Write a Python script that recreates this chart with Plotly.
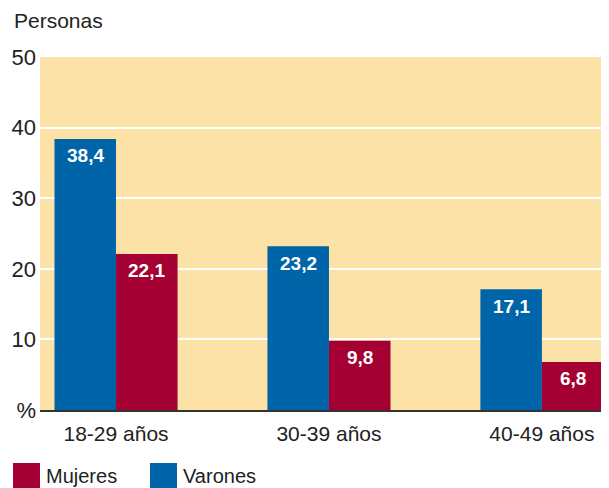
import plotly.graph_objects as go

categorias = ["18-29 años", "30-39 años", "40-49 años"]
varones = [38.4, 23.2, 17.1]
mujeres = [22.1, 9.8, 6.8]
y_ticks = [0, 10, 20, 30, 40, 50]
y_labels = ["%", "10", "20", "30", "40", "50"]

BLUE = "#0064A8"
RED = "#A50034"
BG = "#FDE2A8"
FONT = "Liberation Sans"
TXT = "#222222"

# page body adds an 8px offset; compensate so figure fills the 609x488 window
OFF = 8
W, H = 609 - OFF, 488 - OFF
L, T, R, B = 40 - OFF, 57 - OFF, 0, 488 - 410
PW, PH = W - L - R, H - T - B


def fmt(v):
    return f"{v:.1f}".replace(".", ",")


def px_x(ref_px):
    return (ref_px - 40) / PW


def px_y(ref_py):
    return (410 - ref_py) / PH


xs = list(range(len(categorias)))
w = 0.289

fig = go.Figure()
fig.add_trace(go.Bar(x=xs, y=varones, width=w, offset=-w, marker_color=BLUE,
                     marker_line_width=0, name="Varones", showlegend=False))
fig.add_trace(go.Bar(x=xs, y=mujeres, width=w, offset=0, marker_color=RED,
                     marker_line_width=0, name="Mujeres", showlegend=False))

for vals, shift in ((varones, -w / 2), (mujeres, w / 2)):
    for i, v in zip(xs, vals):
        fig.add_annotation(x=i + shift, y=v, text=fmt(v), showarrow=False,
                           yanchor="middle", xanchor="center", yshift=-17,
                           font=dict(color="white", size=19, family=FONT, weight="bold"))

fig.update_layout(
    width=W, height=H,
    margin=dict(l=L, r=R, t=T, b=B),
    paper_bgcolor="white", plot_bgcolor=BG,
    font=dict(family=FONT, color=TXT),
    barmode="overlay",
    xaxis=dict(
        range=[-0.357, 2.315], tickvals=xs, ticktext=categorias,
        tickfont=dict(size=21), showgrid=False, zeroline=False, automargin=False,
        showline=True, linecolor="#333333", linewidth=2, ticks="",
        ticklabelstandoff=4,
    ),
    yaxis=dict(
        range=[0, 50], tickvals=y_ticks, ticktext=y_labels, automargin=False,
        tickfont=dict(size=22), showgrid=True, gridcolor="white", gridwidth=2,
        zeroline=False, ticks="", ticklabelstandoff=3,
    ),
    showlegend=False,
)

fig.add_annotation(text="Personas", xref="paper", yref="paper", x=px_x(12), y=px_y(21),
                   xanchor="left", yanchor="middle", showarrow=False, font=dict(size=21))

# legend
legend_items = [("Mujeres", RED, 13), ("Varones", BLUE, 150)]
for name, col, lx in legend_items:
    fig.add_shape(type="rect", xref="paper", yref="paper", x0=px_x(lx), x1=px_x(lx + 27),
                  y0=px_y(463), y1=px_y(492), fillcolor=col, line_width=0)
    fig.add_annotation(text=name, xref="paper", yref="paper", x=px_x(lx + 31),
                       y=px_y(476), xanchor="left", yanchor="middle",
                       showarrow=False, font=dict(size=20))

fig.write_html("out.html")
